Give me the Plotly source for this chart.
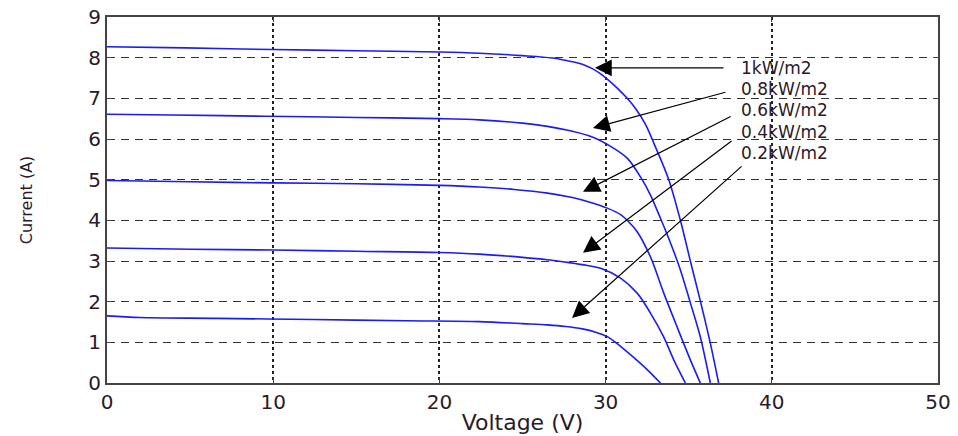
import plotly.graph_objects as go

# I-V curves (Voltage V, Current A)
v_10 = [0, 4.7, 10, 15, 20, 22.4, 25, 26.8, 28, 28.6, 29.2, 29.7, 30.1, 30.7, 31.3, 31.8, 32.4, 32.9, 33.8, 34.5, 35.1, 35.7, 36.3, 36.8]
i_10 = [8.27, 8.24, 8.2, 8.17, 8.14, 8.11, 8.05, 7.99, 7.9, 7.84, 7.73, 7.6, 7.47, 7.25, 7.0, 6.75, 6.36, 5.9, 5.0, 4.0, 3.0, 2.02, 0.98, 0]

v_08 = [0, 3.9, 9.5, 15, 20, 22.4, 25, 26.5, 28, 29.2, 30.3, 31.3, 32.2, 32.7, 33.3, 33.9, 34.5, 35.1, 35.7, 36.3]
i_08 = [6.61, 6.59, 6.56, 6.53, 6.5, 6.47, 6.39, 6.31, 6.19, 6.05, 5.82, 5.53, 5.0, 4.62, 4.05, 3.45, 2.78, 1.97, 1.13, 0]

v_06 = [0, 5, 10, 15, 20, 22.4, 24.5, 26.5, 28, 29.1, 30.1, 30.9, 31.4, 31.9, 32.7, 33.5, 34.3, 35.1, 35.7]
i_06 = [4.98, 4.95, 4.92, 4.9, 4.86, 4.82, 4.76, 4.67, 4.56, 4.44, 4.3, 4.14, 3.96, 3.72, 3.1, 2.21, 1.38, 0.57, 0]

v_04 = [0, 5, 10, 15, 20, 22.4, 25, 26.5, 27.8, 28.9, 29.7, 30.9, 31.9, 32.7, 33.5, 34.1, 34.8]
i_04 = [3.32, 3.29, 3.27, 3.24, 3.21, 3.17, 3.09, 3.03, 2.96, 2.89, 2.82, 2.58, 2.21, 1.72, 1.13, 0.57, 0]

v_02 = [0, 2, 6.6, 12.4, 18, 22.4, 25, 26.5, 27.6, 28.6, 29.4, 30.1, 30.6, 31.6, 32.5, 33.3]
i_02 = [1.65, 1.61, 1.59, 1.56, 1.53, 1.51, 1.46, 1.43, 1.39, 1.33, 1.25, 1.14, 1.0, 0.66, 0.33, 0]

labels = ["1kW/m2", "0.8kW/m2", "0.6kW/m2", "0.4kW/m2", "0.2kW/m2"]
label_y = [7.75, 7.23, 6.71, 6.17, 5.66]
arrow_tail = [(37.18, 7.75), (37.30, 7.16), (37.61, 6.57), (37.67, 5.98), (38.27, 5.36)]
arrow_head = [(29.36, 7.75), (29.24, 6.27), (28.64, 4.70), (28.64, 3.20), (27.98, 1.60)]

x_ticks = [0, 10, 20, 30, 40, 50]
y_ticks = [0, 1, 2, 3, 4, 5, 6, 7, 8, 9]

FONT = "DejaVu Sans, Liberation Sans, Arial"
TXT = "#2a1a2a"

fig = go.Figure()
for v, i in [(v_10, i_10), (v_08, i_08), (v_06, i_06), (v_04, i_04), (v_02, i_02)]:
    fig.add_trace(go.Scatter(x=v, y=i, mode="lines",
                             line=dict(color="#1a1aff", width=1.6, shape="spline", smoothing=0.9),
                             showlegend=False, hoverinfo="skip"))

fig.update_yaxes(range=[0, 9], tickvals=y_ticks, showgrid=True, gridcolor="#333333",
                 griddash="8px,6px", gridwidth=1.2, zeroline=False, automargin=False,
                 showline=True, linecolor="#444444", linewidth=2, mirror="ticks",
                 ticks="inside", ticklen=5, tickcolor="#444444",
                 tickfont=dict(family=FONT, size=20, color=TXT),
                 title=dict(text="Current (A)", font=dict(family=FONT, size=16, color=TXT),
                            standoff=52))
fig.update_xaxes(range=[0, 50], tickvals=x_ticks, showgrid=True, gridcolor="#222222",
                 griddash="dot", gridwidth=2.2, zeroline=False, automargin=False,
                 showline=True, linecolor="#444444", linewidth=2, mirror="ticks",
                 ticks="inside", ticklen=5, tickcolor="#444444",
                 tickfont=dict(family=FONT, size=20, color=TXT),
                 title=dict(text="Voltage (V)", font=dict(family=FONT, size=22, color=TXT),
                            standoff=2))

annotations = []
for (tx, ty), (hx, hy) in zip(arrow_tail, arrow_head):
    annotations.append(dict(x=hx, y=hy, ax=tx, ay=ty, xref="x", yref="y", axref="x", ayref="y",
                            text="", showarrow=True, arrowhead=2, arrowsize=2.8, arrowwidth=1.2,
                            arrowcolor="black"))
for lab, ly in zip(labels, label_y):
    annotations.append(dict(x=38.05, y=ly, xref="x", yref="y", text=lab, showarrow=False,
                            xanchor="left", yanchor="middle",
                            font=dict(family=FONT, size=17, color=TXT)))

fig.update_layout(width=958, height=436, margin=dict(l=107, r=20, t=17, b=53),
                  plot_bgcolor="white", paper_bgcolor="white", annotations=annotations)

fig.write_html("out.html", config={"displayModeBar": False},
               post_script="document.body.style.margin='0';document.body.style.padding='0';")
